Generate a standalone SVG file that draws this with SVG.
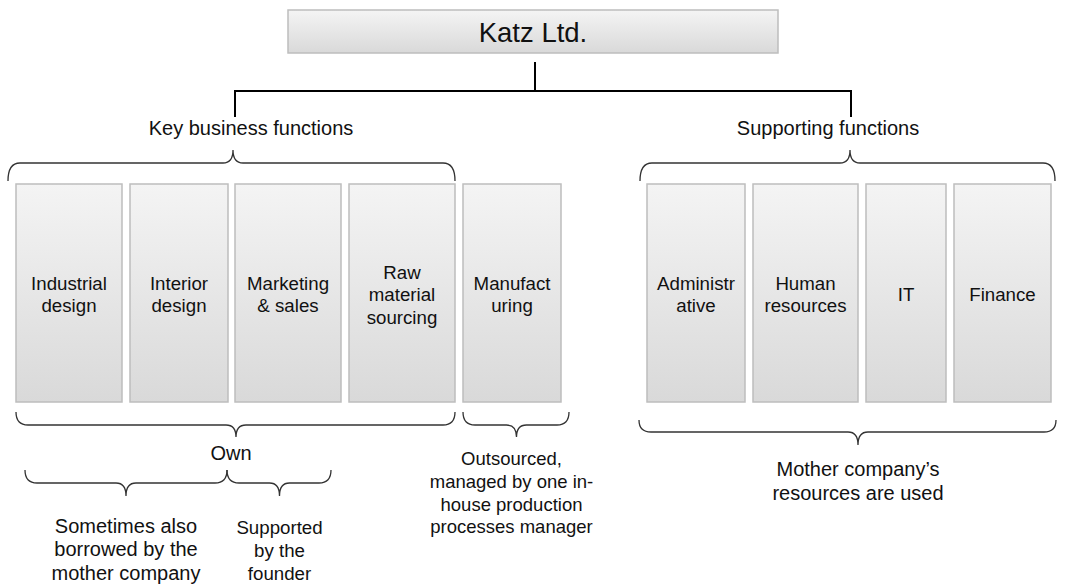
<svg xmlns="http://www.w3.org/2000/svg" width="1066" height="588" viewBox="0 0 1066 588">
  <defs>
    <linearGradient id="boxFill" x1="0" y1="0" x2="0" y2="1">
      <stop offset="0" stop-color="#f4f4f4"/>
      <stop offset="1" stop-color="#d9d9d9"/>
    </linearGradient>
    <style>
      .box { fill: url(#boxFill); stroke: #bdbdbd; stroke-width: 1.5; }
      .t { font-family: "Liberation Sans", Arial, sans-serif; fill: #111; text-anchor: middle; }
      .bt { font-size: 18.7px; }
      .lb { font-size: 20px; }
      .link { fill: none; stroke: #000; stroke-width: 2; }
      .brace { fill: none; stroke: #333; stroke-width: 1.3; }
    </style>
  </defs>
  <rect width="1066" height="588" fill="#fff"/>

  <!-- root -->
  <g id="katz">
    <rect class="box" x="288" y="10" width="490" height="43"/>
    <text class="t" x="533" y="41.5" font-size="27.5">Katz Ltd.</text>
  </g>

  <!-- org chart links -->
  <g id="connectors">
    <path class="link" d="M535,62 V91 M234,91 H852 M235,90 V117 M851,90 V117"/>
  </g>

  <!-- group headings -->
  <g id="key-functions-label">
    <text class="t lb" x="251" y="135">Key business functions</text>
  </g>
  <g id="supporting-functions-label">
    <text class="t lb" x="828" y="135">Supporting functions</text>
  </g>

  <!-- braces -->
  <g id="braces">
    <path class="brace" d="M8,181 Q8,163 20,163 H223 Q233,163 233,150 Q233,163 243,163 H443 Q455,163 455,181"/>
    <path class="brace" d="M640,181 Q640,163 652,163 H840 Q850,163 850,150 Q850,163 860,163 H1043 Q1055,163 1055,181"/>
    <path class="brace" d="M16,412 Q16,425 28,425 H226 Q236,425 236,437 Q236,425 246,425 H443 Q455,425 455,412"/>
    <path class="brace" d="M463,412 Q463,425 475,425 H506.5 Q516.5,425 516.5,437 Q516.5,425 526.5,425 H557 Q569,425 569,412"/>
    <path class="brace" d="M25,470 Q25,483 37,483 H116 Q126,483 126,496 Q126,483 136,483 H215 Q227,483 227,470"/>
    <path class="brace" d="M227,470 Q227,483 239,483 H269.5 Q279.5,483 279.5,496 Q279.5,483 289.5,483 H319 Q331,483 331,470"/>
    <path class="brace" d="M639,420 Q639,432 651,432 H848 Q858,432 858,445 Q858,432 868,432 H1044 Q1056,432 1056,420"/>
  </g>

  <!-- key business functions -->
  <g id="industrial-design">
    <rect class="box" x="16" y="184" width="106" height="218"/>
    <text class="t bt" x="69" y="289.5">Industrial</text>
    <text class="t bt" x="69" y="312">design</text>
  </g>
  <g id="interior-design">
    <rect class="box" x="130" y="184" width="98" height="218"/>
    <text class="t bt" x="179" y="289.5">Interior</text>
    <text class="t bt" x="179" y="312">design</text>
  </g>
  <g id="marketing-sales">
    <rect class="box" x="235" y="184" width="106" height="218"/>
    <text class="t bt" x="288" y="289.5">Marketing</text>
    <text class="t bt" x="288" y="312">&amp; sales</text>
  </g>
  <g id="raw-material-sourcing">
    <rect class="box" x="349" y="184" width="106" height="218"/>
    <text class="t bt" x="402" y="278.5">Raw</text>
    <text class="t bt" x="402" y="301">material</text>
    <text class="t bt" x="402" y="323.5">sourcing</text>
  </g>
  <g id="manufacturing">
    <rect class="box" x="463" y="184" width="98" height="218"/>
    <text class="t bt" x="512" y="289.5">Manufact</text>
    <text class="t bt" x="512" y="312">uring</text>
  </g>

  <!-- supporting functions -->
  <g id="administrative">
    <rect class="box" x="647" y="184" width="98" height="218"/>
    <text class="t bt" x="696" y="289.5">Administr</text>
    <text class="t bt" x="696" y="312">ative</text>
  </g>
  <g id="human-resources">
    <rect class="box" x="753" y="184" width="105" height="218"/>
    <text class="t bt" x="805.5" y="289.5">Human</text>
    <text class="t bt" x="805.5" y="312">resources</text>
  </g>
  <g id="it">
    <rect class="box" x="866" y="184" width="80" height="218"/>
    <text class="t bt" x="906" y="301">IT</text>
  </g>
  <g id="finance">
    <rect class="box" x="954" y="184" width="97" height="218"/>
    <text class="t bt" x="1002.5" y="301">Finance</text>
  </g>

  <!-- annotations under the braces -->
  <g id="own-label">
    <text class="t lb" x="231" y="460">Own</text>
  </g>
  <g id="borrowed-label">
    <text class="t lb" x="126" y="532.5">Sometimes also</text>
    <text class="t lb" x="126" y="556">borrowed by the</text>
    <text class="t lb" x="126" y="579.5">mother company</text>
  </g>
  <g id="founder-label">
    <text class="t bt" x="279.5" y="534">Supported</text>
    <text class="t bt" x="279.5" y="557">by the</text>
    <text class="t bt" x="279.5" y="580">founder</text>
  </g>
  <g id="outsourced-label">
    <text class="t" font-size="18.5" x="511.5" y="465">Outsourced,</text>
    <text class="t" font-size="18.5" x="511.5" y="488">managed by one in-</text>
    <text class="t" font-size="18.5" x="511.5" y="510.5">house production</text>
    <text class="t" font-size="18.5" x="511.5" y="533">processes manager</text>
  </g>
  <g id="mother-resources-label">
    <text class="t lb" x="858" y="476">Mother company’s</text>
    <text class="t lb" x="858" y="500">resources are used</text>
  </g>
</svg>
